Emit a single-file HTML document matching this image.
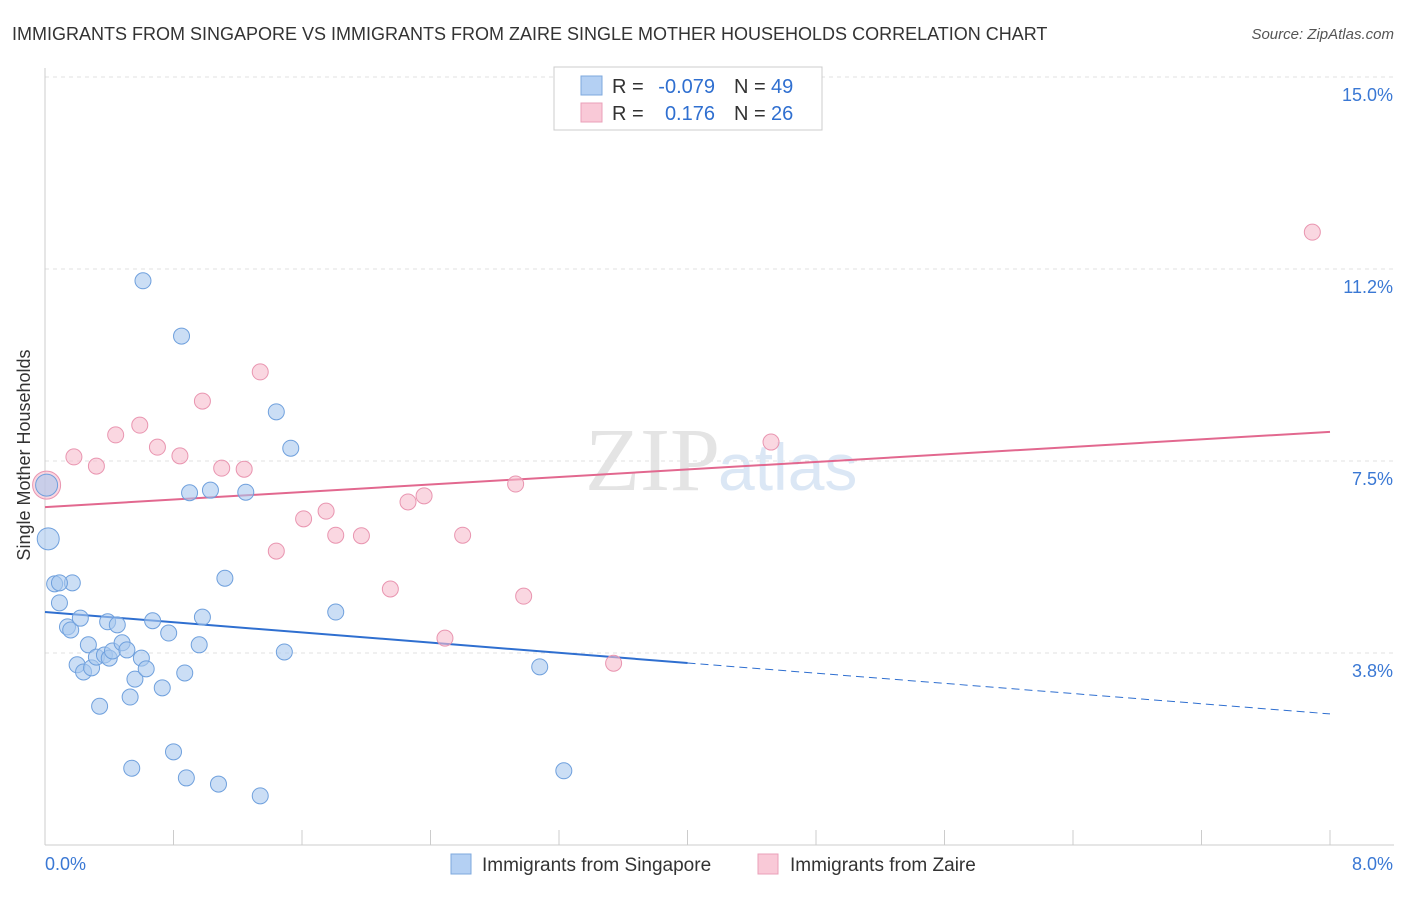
<!DOCTYPE html>
<html><head><meta charset="utf-8"><style>
body{margin:0;background:#fff;font-family:"Liberation Sans",sans-serif}
</style></head><body>
<svg width="1406" height="892" xmlns="http://www.w3.org/2000/svg" id="chart" font-family="Liberation Sans, sans-serif">
<text x="12" y="40" font-size="18" fill="#333">IMMIGRANTS FROM SINGAPORE VS IMMIGRANTS FROM ZAIRE SINGLE MOTHER HOUSEHOLDS CORRELATION CHART</text>
<text x="1394" y="39" font-size="15" fill="#555" text-anchor="end" font-style="italic">Source: ZipAtlas.com</text>
<text x="720" y="490" font-size="90" fill="#e4e4e4" text-anchor="end" font-family="Liberation Serif, serif">ZIP</text>
<text x="718" y="490" font-size="66" fill="#dbe7f5">atlas</text>
<g id="grid"></g><g id="axes"></g><g id="lines"></g><g id="points"></g>
<text x="30" y="455" font-size="18" fill="#333" text-anchor="middle" transform="rotate(-90 30 455)">Single Mother Households</text>
<g>
<rect x="554" y="67" width="268" height="63" fill="#fff" stroke="#ccc"/>
<rect x="581" y="76" width="21" height="19" fill="#b4d0f3" stroke="#7ea8de"/>
<rect x="581" y="103" width="21" height="19" fill="#f9c9d7" stroke="#eaa0b8"/>
<text x="612" y="93" font-size="20" fill="#333">R =</text>
<text x="715" y="93" font-size="20" fill="#2f6fd0" text-anchor="end">-0.079</text>
<text x="734" y="93" font-size="20" fill="#333">N =</text>
<text x="771" y="93" font-size="20" fill="#2f6fd0">49</text>
<text x="612" y="120" font-size="20" fill="#333">R =</text>
<text x="715" y="120" font-size="20" fill="#2f6fd0" text-anchor="end">0.176</text>
<text x="734" y="120" font-size="20" fill="#333">N =</text>
<text x="771" y="120" font-size="20" fill="#2f6fd0">26</text>
</g>
<g>
<rect x="451" y="854" width="20" height="20" fill="#b4d0f3" stroke="#7ea8de"/>
<text x="482" y="871" font-size="19" fill="#333">Immigrants from Singapore</text>
<rect x="758" y="854" width="20" height="20" fill="#f9c9d7" stroke="#eaa0b8"/>
<text x="790" y="871" font-size="19" fill="#333">Immigrants from Zaire</text>
</g>
</svg>
<script>
const blueX=[0.01,0.02,0.06,0.09,0.14,0.16,0.17,0.22,0.27,0.20,0.24,0.29,0.32,0.34,0.37,0.39,0.40,0.42,0.45,0.48,0.51,0.53,0.56,0.60,0.63,0.67,0.73,0.77,0.80,0.87,0.88,0.96,0.98,0.61,0.85,0.90,1.03,1.08,1.12,1.25,1.34,1.44,1.49,1.53,1.81,0.54,3.08,3.23,0.09];
const blueY=[7.03,5.98,5.10,4.73,4.26,4.20,5.12,4.43,3.91,3.52,3.38,3.46,3.67,2.71,3.71,4.36,3.65,3.79,4.30,3.95,3.81,2.89,3.24,3.65,3.44,4.38,3.07,4.14,1.82,3.36,1.31,3.91,4.45,11.02,9.94,6.88,6.93,1.19,5.21,6.89,0.96,8.46,3.77,7.75,4.55,1.50,3.48,1.45,5.12];
const pinkX=[0.01,0.18,0.32,0.44,0.59,0.70,0.84,0.98,1.10,1.24,1.34,1.44,1.61,1.75,1.81,1.97,2.15,2.26,2.36,2.49,2.60,2.93,2.98,3.54,4.52,7.89];
const pinkY=[7.03,7.58,7.40,8.01,8.20,7.77,7.60,8.67,7.36,7.34,9.24,5.74,6.37,6.52,6.05,6.04,5.00,6.70,6.82,4.04,6.05,7.05,4.86,3.55,7.87,11.97];
const blueTrend=[4.55,2.56];
const pinkTrend=[6.60,8.07];
const yTicks=[3.75,7.5,11.25,15];
const yTickLabels=["3.8%","7.5%","11.2%","15.0%"];
const NS="http://www.w3.org/2000/svg";
const X=v=>45+v*160.625, Y=v=>845-v*51.2;
function mk(p,t,a){const e=document.createElementNS(NS,t);for(const k in a)e.setAttribute(k,a[k]);document.getElementById(p).appendChild(e);return e;}
yTicks.forEach((v,i)=>{
 const l=mk('grid','line',{x1:45,x2:1394,y1:Y(v),y2:Y(v),stroke:'#e2e2e2','stroke-dasharray':'4 4'});
 
 
 const t=mk('grid','text',{x:1393,y:Y(v)+24,'font-size':18,fill:'#3a78d4','text-anchor':'end'});
 t.textContent=yTickLabels[i];
 
 
});
let a=mk('axes','line',{x1:45,x2:45,y1:68,y2:845,stroke:'#ccc'});


a=mk('axes','line',{x1:45,x2:1394,y1:845,y2:845,stroke:'#ccc'});


for(let i=0;i<=10;i++){const t=mk('axes','line',{x1:X(i*0.8),x2:X(i*0.8),y1:830,y2:845,stroke:'#ccc'});
 
 }
let xl=mk('axes','text',{x:45,y:870,'font-size':18,fill:'#3a78d4'});xl.textContent='0.0%';


xl=mk('axes','text',{x:1393,y:870,'font-size':18,fill:'#3a78d4','text-anchor':'end'});xl.textContent='8.0%';


pinkX.forEach((x,i)=>{const c=mk('points','circle',{cx:X(x),cy:Y(pinkY[i]),r:i==0?14:8,fill:'#f6bccd','fill-opacity':0.6,stroke:'#e995b0','stroke-width':1});
 
 });
blueX.forEach((x,i)=>{const c=mk('points','circle',{cx:X(x),cy:Y(blueY[i]),r:(i<2)?11:8,fill:'#a9c8ef','fill-opacity':0.6,stroke:'#6fa0dd','stroke-width':1});
 
 });
const bAt=x=>blueTrend[0]+(blueTrend[1]-blueTrend[0])*x/8;
let l=mk('lines','line',{x1:X(0),y1:Y(bAt(0)),x2:X(4),y2:Y(bAt(4)),stroke:'#2f6fd0','stroke-width':2});


l=mk('lines','line',{x1:X(4),y1:Y(bAt(4)),x2:X(8),y2:Y(bAt(8)),stroke:'#2f6fd0','stroke-width':1,'stroke-dasharray':'8 5'});


l=mk('lines','line',{x1:X(0),y1:Y(pinkTrend[0]),x2:X(8),y2:Y(pinkTrend[1]),stroke:'#e2688f','stroke-width':2});


</script>
</body></html>
